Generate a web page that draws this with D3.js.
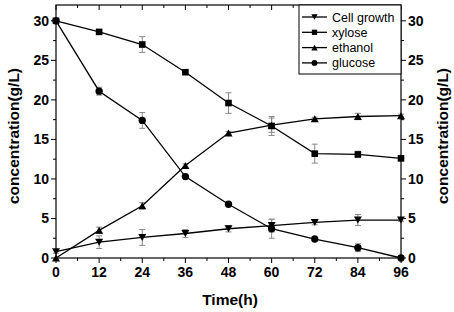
<!DOCTYPE html>
<html lang="en">
<head>
<meta charset="UTF-8">
<title>Fermentation concentrations</title>
<script src="https://cdn.jsdelivr.net/npm/d3@7"></script>
<style>
    body { margin: 0; background: #fff; }
    text { font-family: Arial, 'Liberation Sans', sans-serif; }
    .tick-label { font-size: 14px; font-weight: bold; }
    .title { font-size: 15.5px; font-weight: bold; }
    .legend text { font-size: 12.5px; }
</style>
</head>
<body>
<svg id="chart" width="454" height="312"></svg>
<script>
    const hours = [0, 12, 24, 36, 48, 60, 72, 84, 96];
    const cellGrowth = [0.8, 2.0, 2.6, 3.1, 3.7, 4.1, 4.5, 4.8, 4.8];
    const cellErr    = [0.2, 0.8, 1.0, 0.5, 0.4, 0.8, 0.3, 0.7, 0.2];
    const xylose     = [30.0, 28.6, 27.0, 23.5, 19.6, 16.7, 13.2, 13.1, 12.6];
    const xyloseErr  = [0.1, 0.3, 1.0, 0.2, 1.3, 1.2, 1.2, 0.4, 0.2];
    const ethanol    = [0.0, 3.5, 6.6, 11.7, 15.8, 16.8, 17.6, 17.9, 18.0];
    const ethanolErr = [0.0, 0.4, 0.4, 0.2, 0.2, 0.9, 0.2, 0.4, 0.2];
    const glucose    = [30.0, 21.1, 17.4, 10.3, 6.8, 3.7, 2.4, 1.3, 0.0];
    const glucoseErr = [0.1, 0.5, 1.0, 0.1, 0.1, 1.2, 0.2, 0.5, 0.0];
    const seriesNames = ["Cell growth", "xylose", "ethanol", "glucose"];
    const xTicks = [0, 12, 24, 36, 48, 60, 72, 84, 96];
    const yTicks = [0, 5, 10, 15, 20, 25, 30];

    const series = [
        {name: seriesNames[0], v: cellGrowth, e: cellErr, sym: "down"},
        {name: seriesNames[1], v: xylose, e: xyloseErr, sym: "square"},
        {name: seriesNames[2], v: ethanol, e: ethanolErr, sym: "up"},
        {name: seriesNames[3], v: glucose, e: glucoseErr, sym: "circle"}
    ];

    const m = {left: 56, right: 401, top: 5, bottom: 258};
    const svg = d3.select("#chart");
    const x = d3.scaleLinear().domain([0, 96]).range([m.left, m.right]);
    const y = d3.scaleLinear().domain([0, 32]).range([m.bottom, m.top]);

    // symbol paths, centred on 0,0
    function symbolPath(sym) {
        if (sym === "down") return "M-4,-3.5L4,-3.5L0,3.5Z";
        if (sym === "up") return "M-4,3.5L4,3.5L0,-3.5Z";
        if (sym === "square") return "M-3.3,-3.3H3.3V3.3H-3.3Z";
        return d3.symbol(d3.symbolCircle, 42)();
    }

    // axes
    const minorX = d3.range(6, 96, 12);
    const minorY = d3.range(2.5, 32, 5);
    const ax = svg.append("g").attr("stroke", "#000").attr("stroke-width", 1);
    xTicks.forEach(t => {
        ax.append("line").attr("x1", x(t)).attr("x2", x(t)).attr("y1", m.bottom).attr("y2", m.bottom + 5);
        ax.append("line").attr("x1", x(t)).attr("x2", x(t)).attr("y1", m.top).attr("y2", m.top + 5);
    });
    minorX.forEach(t => {
        ax.append("line").attr("x1", x(t)).attr("x2", x(t)).attr("y1", m.bottom).attr("y2", m.bottom + 3);
        ax.append("line").attr("x1", x(t)).attr("x2", x(t)).attr("y1", m.top).attr("y2", m.top + 3);
    });
    yTicks.forEach(t => {
        ax.append("line").attr("x1", m.left - 5).attr("x2", m.left).attr("y1", y(t)).attr("y2", y(t));
        ax.append("line").attr("x1", m.right).attr("x2", m.right + 5).attr("y1", y(t)).attr("y2", y(t));
    });
    minorY.forEach(t => {
        ax.append("line").attr("x1", m.left - 3).attr("x2", m.left).attr("y1", y(t)).attr("y2", y(t));
        ax.append("line").attr("x1", m.right).attr("x2", m.right + 3).attr("y1", y(t)).attr("y2", y(t));
    });
    svg.append("rect").attr("x", m.left).attr("y", m.top)
        .attr("width", m.right - m.left).attr("height", m.bottom - m.top)
        .attr("fill", "none").attr("stroke", "#000").attr("stroke-width", 1.2);

    svg.selectAll("text.xl").data(xTicks).join("text").attr("class", "tick-label")
        .attr("x", d => x(d)).attr("y", m.bottom + 19).attr("text-anchor", "middle").text(d => d);
    svg.selectAll("text.yl").data(yTicks).join("text").attr("class", "tick-label")
        .attr("x", m.left - 7).attr("y", d => y(d) + 5).attr("text-anchor", "end").text(d => d);
    svg.selectAll("text.yr").data(yTicks).join("text").attr("class", "tick-label")
        .attr("x", m.right + 7).attr("y", d => y(d) + 5).attr("text-anchor", "start").text(d => d);

    svg.append("text").attr("class", "title").attr("x", 230).attr("y", 305)
        .attr("text-anchor", "middle").text("Time(h)");
    svg.append("text").attr("class", "title").attr("text-anchor", "middle")
        .attr("transform", "translate(19,136) rotate(-90)").text("concentration(g/L)");
    svg.append("text").attr("class", "title").attr("text-anchor", "middle")
        .attr("transform", "translate(448,136) rotate(-90)").text("concentration(g/L)");

    // error bars
    series.forEach(s => {
        const g = svg.append("g").attr("stroke", "#888").attr("stroke-width", 1);
        hours.forEach((h, i) => {
            if (s.e[i] < 0.15) return;
            const y0 = y(s.v[i] - s.e[i]), y1 = y(s.v[i] + s.e[i]);
            g.append("line").attr("x1", x(h)).attr("x2", x(h)).attr("y1", y0).attr("y2", y1);
            g.append("line").attr("x1", x(h) - 3).attr("x2", x(h) + 3).attr("y1", y0).attr("y2", y0);
            g.append("line").attr("x1", x(h) - 3).attr("x2", x(h) + 3).attr("y1", y1).attr("y2", y1);
        });
    });

    // lines and markers
    const line = d3.line().x((d, i) => x(hours[i])).y(d => y(d));
    series.forEach(s => {
        svg.append("path").attr("d", line(s.v)).attr("fill", "none")
            .attr("stroke", "#000").attr("stroke-width", 1.3);
        svg.selectAll(null).data(s.v).join("path")
            .attr("d", symbolPath(s.sym))
            .attr("transform", (d, i) => `translate(${x(hours[i])},${y(d)})`)
            .attr("fill", "#000");
    });

    // legend
    const lg = svg.append("g").attr("class", "legend");
    lg.append("rect").attr("x", 299).attr("y", m.top).attr("width", m.right - 299).attr("height", 69)
        .attr("fill", "#fff").attr("stroke", "#000").attr("stroke-width", 1);
    series.forEach((s, i) => {
        const ly = 17 + i * 15.3;
        lg.append("line").attr("x1", 302).attr("x2", 327).attr("y1", ly).attr("y2", ly)
            .attr("stroke", "#000").attr("stroke-width", 1.3);
        lg.append("path").attr("d", symbolPath(s.sym)).attr("transform", `translate(314.5,${ly}) scale(0.8)`);
        lg.append("text").attr("x", 332).attr("y", ly + 4.5).text(s.name);
    });
</script>
</body>
</html>
